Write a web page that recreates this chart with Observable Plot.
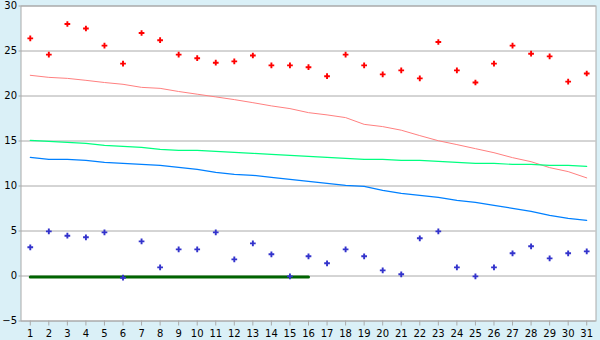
<!DOCTYPE html>
<html><head><meta charset="utf-8">
<script src="https://cdn.jsdelivr.net/npm/d3@7"></script>
<script src="https://cdn.jsdelivr.net/npm/@observablehq/plot@0.6"></script>
<style>
html,body{margin:0;padding:0;background:#DAF0F7;}
#chart svg{display:block;}
</style>
</head><body><div id="chart"></div>
<script>
const days = d3.range(1, 32);
const yTicks = [-5, 0, 5, 10, 15, 20, 25, 30];
const redPoints = [26.4,24.6,28.0,27.5,25.6,23.6,27.0,26.2,24.6,24.2,23.7,23.85,24.5,23.4,23.4,23.2,22.2,24.6,23.4,22.4,22.85,21.96,26.0,22.85,21.5,23.6,25.6,24.7,24.4,21.6,22.5];
const bluePoints = [3.19,4.96,4.48,4.3,4.85,-0.19,3.85,0.96,2.96,2.96,4.85,1.85,3.63,2.41,-0.04,2.19,1.41,2.96,2.19,0.63,0.19,4.19,4.96,0.96,-0.04,0.96,2.52,3.3,1.96,2.52,2.74];
const pinkLine = [22.3,22.07,21.96,21.74,21.5,21.3,20.96,20.85,20.5,20.2,19.9,19.6,19.26,18.9,18.6,18.15,17.9,17.6,16.85,16.6,16.2,15.6,15.03,14.6,14.15,13.7,13.15,12.7,12.04,11.6,10.9];
const greenLine = [15.07,14.96,14.85,14.74,14.52,14.4,14.3,14.07,13.96,13.96,13.85,13.74,13.63,13.52,13.4,13.3,13.19,13.07,12.96,12.96,12.85,12.85,12.74,12.63,12.52,12.52,12.4,12.4,12.3,12.3,12.19];
const blueLine = [13.19,12.96,12.96,12.85,12.63,12.52,12.4,12.3,12.07,11.85,11.52,11.3,11.19,10.96,10.74,10.52,10.3,10.07,9.96,9.52,9.19,8.96,8.74,8.41,8.19,7.85,7.52,7.19,6.74,6.41,6.19];
const baseDays = d3.range(1, 17);
const baseValue = -0.1;

const mk = arr => days.map((d, i) => ({day: d, v: arr[i]}));
const base = baseDays.map(d => ({day: d, v: baseValue}));

const chart = Plot.plot({
  width: 600,
  height: 340,
  marginLeft: 20.5,
  marginRight: 4.5,
  marginTop: 5.5,
  marginBottom: 19.5,
  style: {background: "#DAF0F7", fontFamily: "DejaVu Sans", fontSize: "10px", color: "#000"},
  x: {type: "point", domain: days, padding: 0.5, round: false},
  y: {domain: [-5, 30]},
  marks: [
    Plot.frame({fill: "white", stroke: "none"}),
    Plot.gridY(yTicks, {stroke: "#AAAAAA", strokeOpacity: 1}),
    Plot.frame({stroke: "#AAAAAA", strokeOpacity: 1}),
    Plot.axisY(yTicks, {tickSize: 2, tickPadding: 2, stroke: "#AAAAAA", fill: "#000", fontSize: 10, label: null}),
    Plot.axisX(days, {tickSize: 5, tickPadding: 4, stroke: "#AAAAAA", fill: "#000", fontSize: 10, label: null}),
    Plot.line(mk(pinkLine), {x: "day", y: "v", stroke: "#FF8080", strokeWidth: 1}),
    Plot.line(mk(greenLine), {x: "day", y: "v", stroke: "#00FF80", strokeWidth: 1.2}),
    Plot.line(mk(blueLine), {x: "day", y: "v", stroke: "#0080FF", strokeWidth: 1.2}),
    Plot.line(base, {x: "day", y: "v", stroke: "#006400", strokeWidth: 3}),
    Plot.dot(mk(redPoints), {x: "day", y: "v", symbol: "cross", r: 2.4, fill: "#FF0000", stroke: "none"}),
    Plot.dot(mk(bluePoints), {x: "day", y: "v", symbol: "cross", r: 2.4, fill: "#3333CC", stroke: "none"})
  ]
});
document.getElementById("chart").append(chart);
</script>
</body></html>
